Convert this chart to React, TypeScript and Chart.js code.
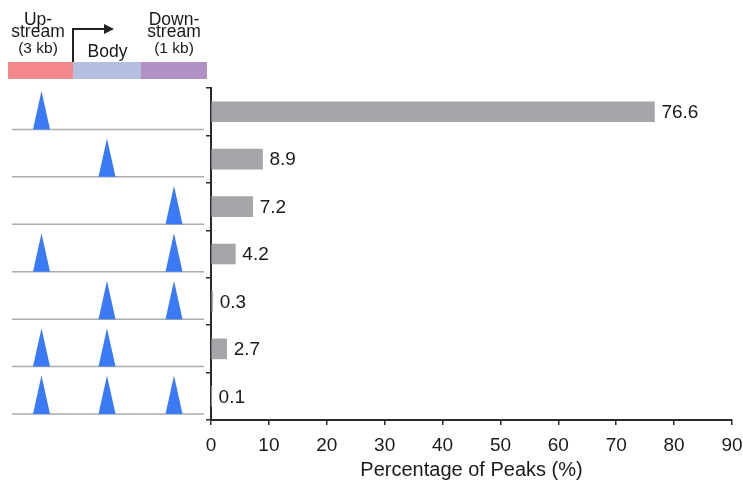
import React, { useEffect, useRef } from "react";
import { Chart, registerables } from "chart.js";

Chart.register(...registerables);

const categories = [
  "Upstream only",
  "Body only",
  "Downstream only",
  "Upstream + Downstream",
  "Body + Downstream",
  "Upstream + Body",
  "Upstream + Body + Downstream",
];
const percentages = [76.6, 8.9, 7.2, 4.2, 0.3, 2.7, 0.1];
const upstreamPeak = [true, false, false, true, false, true, true];
const bodyPeak = [false, true, false, false, true, true, true];
const downstreamPeak = [false, false, true, true, true, false, true];
const xTicks = [0, 10, 20, 30, 40, 50, 60, 70, 80, 90];
const xTitle = "Percentage of Peaks (%)";
const headerUp = ["Up-", "stream", "(3 kb)"];
const headerBody = "Body";
const headerDown = ["Down-", "stream", "(1 kb)"];

const FONT = "'Liberation Sans', Arial, Helvetica, sans-serif";

// layout of the left gene diagram (pixels)
const SEG = { x0: 8, x1: 73, x2: 141, x3: 207, top: 62, bottom: 79 };

const diagramPlugin = {
  id: "geneDiagram",
  afterDraw(chart: any) {
    const ctx = chart.ctx as CanvasRenderingContext2D;
    const y = chart.scales.y;
    ctx.save();
    // header colored segments
    ctx.fillStyle = "#f4878c";
    ctx.fillRect(SEG.x0, SEG.top, SEG.x1 - SEG.x0, SEG.bottom - SEG.top);
    ctx.fillStyle = "#b4bee0";
    ctx.fillRect(SEG.x1, SEG.top, SEG.x2 - SEG.x1, SEG.bottom - SEG.top);
    ctx.fillStyle = "#b190c6";
    ctx.fillRect(SEG.x2, SEG.top, SEG.x3 - SEG.x2, SEG.bottom - SEG.top);

    // header texts
    ctx.fillStyle = "#1a1a1a";
    ctx.textAlign = "center";
    ctx.textBaseline = "alphabetic";
    const upX = 38;
    const downX = 174;
    const bl = [24.5, 37, 52.5];
    headerUp.forEach((t, i) => {
      ctx.font = (i === 2 ? "15.5px " : "17.5px ") + FONT;
      ctx.fillText(t, upX, bl[i]);
    });
    headerDown.forEach((t, i) => {
      ctx.font = (i === 2 ? "15.5px " : "17.5px ") + FONT;
      ctx.fillText(t, downX, bl[i]);
    });
    ctx.font = "17.5px " + FONT;
    ctx.fillText(headerBody, 107.5, 57);

    // TSS arrow
    ctx.strokeStyle = "#222";
    ctx.lineWidth = 2;
    ctx.beginPath();
    ctx.moveTo(SEG.x1, SEG.top);
    ctx.lineTo(SEG.x1, 29);
    ctx.lineTo(106, 29);
    ctx.stroke();
    ctx.fillStyle = "#222";
    ctx.beginPath();
    ctx.moveTo(114, 29);
    ctx.lineTo(104, 24);
    ctx.lineTo(104, 34);
    ctx.closePath();
    ctx.fill();

    // rows
    const centers = [(SEG.x0 + SEG.x1) / 2 + 1, (SEG.x1 + SEG.x2) / 2, (SEG.x2 + SEG.x3) / 2];
    const n = categories.length;
    const half = (y.bottom - y.top) / n / 2;
    for (let i = 0; i < n; i++) {
      const c = y.getPixelForValue(i);
      const top = c - half;
      const bottom = c + half;
      const base = bottom - 6;
      ctx.strokeStyle = "#a9adad";
      ctx.lineWidth = 1.5;
      ctx.beginPath();
      ctx.moveTo(12, base);
      ctx.lineTo(204, base);
      ctx.stroke();
      const flags = [upstreamPeak[i], bodyPeak[i], downstreamPeak[i]];
      ctx.fillStyle = "#3a7af6";
      flags.forEach((f, k) => {
        if (!f) return;
        const cx = centers[k];
        ctx.beginPath();
        ctx.moveTo(cx, top + 3);
        ctx.lineTo(cx + 8.5, base);
        ctx.lineTo(cx - 8.5, base);
        ctx.closePath();
        ctx.fill();
      });
    }

    // value labels
    const meta = chart.getDatasetMeta(0);
    ctx.fillStyle = "#1a1a1a";
    ctx.font = "19px " + FONT;
    ctx.textAlign = "left";
    ctx.textBaseline = "middle";
    meta.data.forEach((bar: any, i: number) => {
      ctx.fillText(String(percentages[i]), bar.x + 7, bar.y + 1);
    });
    ctx.restore();
  },
};

export default function App() {
  const ref = useRef<HTMLCanvasElement | null>(null);
  useEffect(() => {
    if (!ref.current) return;
    const chart = new Chart(ref.current, {
      type: "bar",
      data: {
        labels: categories,
        datasets: [
          {
            data: percentages,
            backgroundColor: "#a6a6aa",
            borderWidth: 0,
            barThickness: 20,
          },
        ],
      },
      options: {
        indexAxis: "y",
        responsive: false,
        animation: false,
        layout: { padding: { top: 88, right: 11, bottom: 0, left: 0 } },
        plugins: {
          legend: { display: false },
          tooltip: { enabled: false },
        },
        scales: {
          x: {
            type: "linear",
            min: 0,
            max: 90,
            afterFit: (s: any) => {
              s.height = 67;
              s.paddingRight = 0;
              s.paddingLeft = 0;
            },
            afterBuildTicks: (s: any) => {
              s.ticks = xTicks.map((v) => ({ value: v }));
            },
            border: { display: true, color: "#2a2a2a", width: 2 },
            grid: {
              drawOnChartArea: false,
              drawTicks: true,
              tickLength: 5,
              color: "#2a2a2a",
              lineWidth: 1.5,
            },
            ticks: {
              color: "#1a1a1a",
              font: { family: FONT, size: 19 },
              padding: 9,
              maxRotation: 0,
              autoSkip: false,
            },
            title: {
              display: true,
              text: xTitle,
              color: "#1a1a1a",
              font: { family: FONT, size: 20 },
              padding: { top: 2, bottom: 5 },
            },
          },
          y: {
            type: "category",
            offset: true,
            afterFit: (s: any) => {
              s.width = 211;
              s.paddingTop = 0;
              s.paddingBottom = 0;
            },
            border: { display: true, color: "#2a2a2a", width: 2 },
            grid: {
              offset: true,
              drawOnChartArea: false,
              drawTicks: true,
              tickLength: 5,
              color: "#2a2a2a",
              lineWidth: 1.5,
            },
            ticks: { display: false },
          },
        },
      },
      plugins: [diagramPlugin],
    });
    return () => chart.destroy();
  }, []);
  return (
    <div style={{ position: "absolute", left: 0, top: 0, width: 743, height: 487, background: "#fff" }}>
      <canvas ref={ref} width={743} height={487} style={{ display: "block" }} />
    </div>
  );
}
